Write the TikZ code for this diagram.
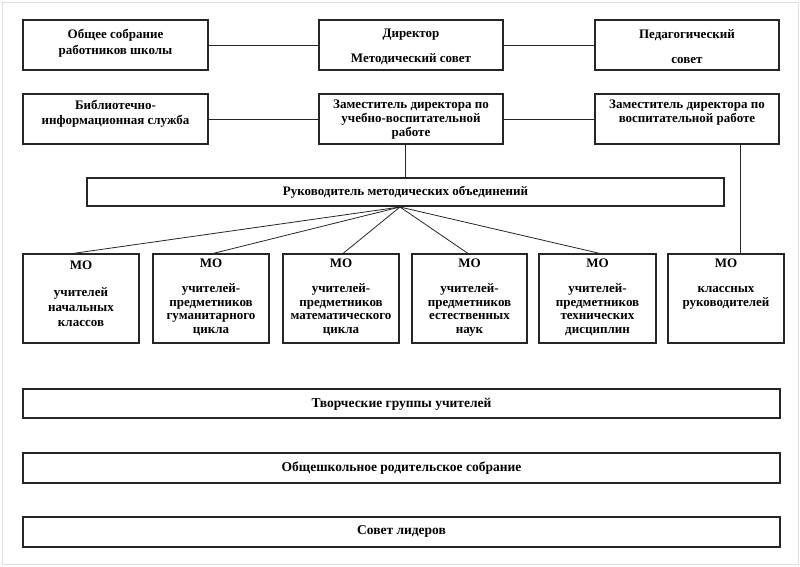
\documentclass[tikz,border=0pt]{standalone}
\usepackage{fontspec}
\setmainfont{Liberation Serif}
\begin{document}
\begin{tikzpicture}[x=1pt,y=-1pt,
  box/.style={draw=black!85, line width=1.1pt, inner sep=0pt, rectangle},
  conn/.style={draw=black!85, line width=0.8pt},
  txt/.style={align=center, inner sep=0pt, font=\bfseries\fontsize{13}{14}\selectfont},
  txtb/.style={align=center, inner sep=0pt, font=\bfseries\fontsize{13.5}{14}\selectfont}]
\useasboundingbox (0,0) rectangle (800,566);
\draw[black!12, line width=1pt] (2,2) rectangle (798,564);
% row 1
\node[box, minimum width=185pt, minimum height=50pt] (b1) at (115.5,45) {};
\node[box, minimum width=184pt, minimum height=50pt] (dir) at (411,45) {};
\node[box, minimum width=184pt, minimum height=50pt] (ped) at (687,45) {};
\node[txt, font=\bfseries\fontsize{13}{16}\selectfont] (t1) at (115.5,43) {Общее собрание\\работников школы};
\node[txt] (tdir) at (411,46.5) {Директор\\[11pt]Методический совет};
\node[txt] (tped) at (687,46.5) {Педагогический\\[11pt]совет};
% row 2
\node[box, minimum width=185pt, minimum height=50pt] (lib) at (115.5,119) {};
\node[box, minimum width=184pt, minimum height=50pt] (zuvr) at (411,119) {};
\node[box, minimum width=184pt, minimum height=50pt] (zvr) at (687,119) {};
\node[txt, font=\bfseries\fontsize{13}{15}\selectfont] (tlib) at (115.5,113.5) {Библиотечно-\\информационная служба};
\node[txt] (tzuvr) at (411,120) {Заместитель директора по\\учебно-воспитательной\\работе};
\node[txt] (tzvr) at (687,113) {Заместитель директора по\\воспитательной работе};
% head of MO
\node[box, minimum width=637pt, minimum height=28pt] (rk) at (405.5,192) {};
\node[txt] (trk) at (405.5,192) {Руководитель методических объединений};
% MO boxes
\node[box, minimum width=116pt, minimum height=89pt] (mo1) at (81,298.5) {};
\node[box, minimum width=116pt, minimum height=89pt] (mo2) at (211,298.5) {};
\node[box, minimum width=116pt, minimum height=89pt] (mo3) at (341,298.5) {};
\node[box, minimum width=115pt, minimum height=89pt] (mo4) at (469.5,298.5) {};
\node[box, minimum width=117pt, minimum height=89pt] (mo5) at (597.5,298.5) {};
\node[box, minimum width=116pt, minimum height=89pt] (mo6) at (726,298.5) {};
\node[txt, font=\bfseries\fontsize{13}{15}\selectfont] (tmo1) at (81,294) {МО\\[12pt]учителей\\начальных\\классов};
\node[txt, font=\bfseries\fontsize{13}{13.5}\selectfont] (tmo2) at (211,297.5) {МО\\[11.5pt]учителей-\\предметников\\гуманитарного\\цикла};
\node[txt, font=\bfseries\fontsize{13}{13.5}\selectfont] (tmo3) at (341,297.5) {МО\\[11.5pt]учителей-\\предметников\\математического\\цикла};
\node[txt, font=\bfseries\fontsize{13}{13.5}\selectfont] (tmo4) at (469.5,297.5) {МО\\[11.5pt]учителей-\\предметников\\естественных\\наук};
\node[txt, font=\bfseries\fontsize{13}{13.5}\selectfont] (tmo5) at (597.5,297.5) {МО\\[11.5pt]учителей-\\предметников\\технических\\дисциплин};
\node[txt, font=\bfseries\fontsize{13}{13.5}\selectfont] (tmo6) at (726,284) {МО\\[11.5pt]классных\\руководителей};
% bottom boxes
\node[box, minimum width=757pt, minimum height=29pt] (cg) at (401.5,403.5) {};
\node[box, minimum width=757pt, minimum height=30pt] (ps) at (401.5,468) {};
\node[box, minimum width=757pt, minimum height=30pt] (sl) at (401.5,532) {};
\node[txtb] (tcg) at (401.5,404) {Творческие группы учителей};
\node[txtb] (tps) at (401.5,468) {Общешкольное родительское собрание};
\node[txtb] (tsl) at (401.5,531) {Совет лидеров};
% connectors
\draw[conn] (b1.east) -- (dir.west);
\draw[conn] (dir.east) -- (ped.west);
\draw[conn] (lib.east) -- (zuvr.west);
\draw[conn] (zuvr.east) -- (zvr.west);
\draw[conn] (rk.north) -- (rk.north |- zuvr.south);
\draw[conn] ([xshift=53pt]zvr.south) -- ([xshift=14pt]mo6.north);
\coordinate (hub) at (400,207);
\draw[conn] (hub) -- ([xshift=-8pt]mo1.north);
\draw[conn] (hub) -- ([xshift=2pt]mo2.north);
\draw[conn] (hub) -- ([xshift=2pt]mo3.north);
\draw[conn] (hub) -- ([xshift=-1.5pt]mo4.north);
\draw[conn] (hub) -- ([xshift=2.5pt]mo5.north);
\end{tikzpicture}
\end{document}
